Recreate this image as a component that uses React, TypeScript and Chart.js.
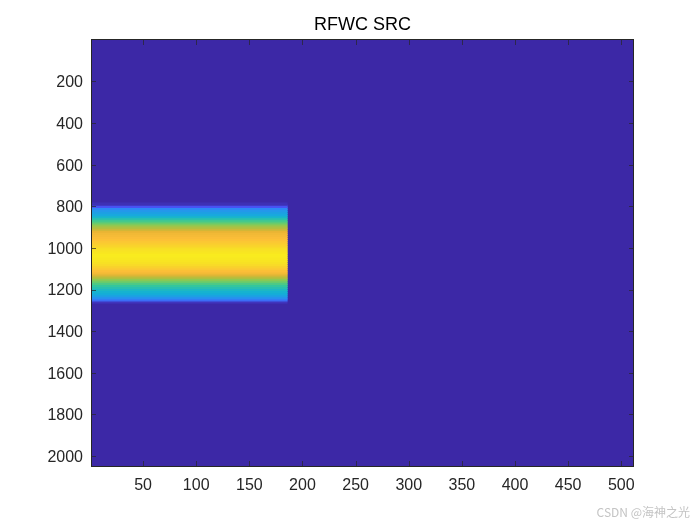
import React, { useEffect, useRef } from "react";
import { Chart, registerables } from "chart.js";

Chart.register(...registerables);

const titleText = "RFWC SRC";
const watermark = "CSDN @海神之光";
const xTicks = [50, 100, 150, 200, 250, 300, 350, 400, 450, 500];
const yTicks = [200, 400, 600, 800, 1000, 1200, 1400, 1600, 1800, 2000];
const xRange = [1, 512];
const yRange = [1, 2048];
const bandX = [1, 186];
const rowY = [
  790, 800, 810, 820, 830, 840, 850, 860, 870, 880, 890, 900, 910, 920, 930, 940,
  950, 960, 970, 980, 990, 1000, 1010, 1020, 1030, 1040, 1050, 1060, 1070, 1080,
  1090, 1100, 1110, 1120, 1130, 1140, 1150, 1160, 1170, 1180, 1190, 1200, 1210,
  1220, 1230, 1240, 1250, 1260,
];
const rowValue = [
  0.02, 0.1, 0.2, 0.24, 0.26, 0.28, 0.32, 0.37, 0.42, 0.47, 0.53, 0.58, 0.64, 0.71,
  0.75, 0.77, 0.79, 0.81, 0.83, 0.85, 0.87, 0.9, 0.93, 0.96, 0.99, 0.99, 0.97, 0.95,
  0.92, 0.89, 0.86, 0.83, 0.8, 0.76, 0.68, 0.6, 0.53, 0.48, 0.43, 0.39, 0.36, 0.33,
  0.31, 0.29, 0.26, 0.22, 0.15, 0.03,
];

const parula = [
  [60, 40, 166],
  [72, 82, 244],
  [46, 135, 247],
  [18, 177, 214],
  [55, 200, 151],
  [128, 204, 90],
  [185, 189, 60],
  [230, 180, 52],
  [252, 190, 56],
  [247, 222, 38],
  [249, 236, 30],
];

function colorOf(v: number): string {
  const p = Math.max(0, Math.min(1, v)) * (parula.length - 1);
  const i = Math.min(parula.length - 2, Math.floor(p));
  const f = p - i;
  const c = parula[i].map((a, k) => Math.round(a + (parula[i + 1][k] - a) * f));
  return `rgb(${c[0]},${c[1]},${c[2]})`;
}

const FONT = '"Liberation Sans", Arial, sans-serif';
const INK = "#262626";

const framePlugin = {
  id: "frame",
  beforeDatasetsDraw(chart: any) {
    const { ctx, chartArea: a } = chart;
    ctx.save();
    ctx.fillStyle = colorOf(0);
    ctx.fillRect(a.left, a.top, a.right - a.left, a.bottom - a.top);
    ctx.restore();
  },
  afterDatasetsDraw(chart: any) {
    const { ctx, chartArea: a, scales } = chart;
    const len = 5;
    ctx.save();
    ctx.strokeStyle = "rgba(38,38,38,0.7)";
    ctx.lineWidth = 1;
    ctx.beginPath();
    xTicks.forEach((t) => {
      const x = Math.round(scales.x.getPixelForValue(t)) + 0.5;
      ctx.moveTo(x, a.bottom);
      ctx.lineTo(x, a.bottom - len);
      ctx.moveTo(x, a.top);
      ctx.lineTo(x, a.top + len);
    });
    yTicks.forEach((t) => {
      const y = Math.round(scales.y.getPixelForValue(t)) + 0.5;
      ctx.moveTo(a.left, y);
      ctx.lineTo(a.left + len, y);
      ctx.moveTo(a.right, y);
      ctx.lineTo(a.right - len, y);
    });
    ctx.stroke();
    ctx.strokeStyle = INK;
    ctx.strokeRect(a.left + 0.5, a.top - 0.5, a.right - a.left - 1, a.bottom - a.top + 1);
    ctx.restore();
  },
  afterDraw(chart: any) {
    const { ctx } = chart;
    ctx.save();
    ctx.font = '12px "Noto Sans CJK SC", "Liberation Sans", sans-serif';
    ctx.fillStyle = "#c4c4c4";
    ctx.textAlign = "right";
    ctx.textBaseline = "middle";
    ctx.fillText(watermark, 690, 512);
    ctx.restore();
  },
};

export default function App() {
  const ref = useRef<HTMLCanvasElement>(null);

  useEffect(() => {
    document.body.style.margin = "0";
    document.body.style.background = "#fff";
    const chart = new Chart(ref.current as HTMLCanvasElement, {
      type: "line",
      data: {
        datasets: rowY.map((y, i) => ({
          data: bandX.map((x) => ({ x, y })),
          borderColor: colorOf(rowValue[i]),
          borderWidth: 3.2,
          borderCapStyle: "butt",
          pointRadius: 0,
          tension: 0,
        })),
      },
      options: {
        responsive: false,
        animation: false,
        devicePixelRatio: 1,
        layout: { padding: { left: 0, right: 66, top: 0, bottom: 0 } },
        plugins: {
          legend: { display: false },
          tooltip: { enabled: false },
          title: {
            display: true,
            fullSize: false,
            text: titleText,
            color: "#000",
            font: { family: FONT, size: 18, weight: "normal", lineHeight: 1.2 },
            padding: { top: 14, bottom: 4.4 },
          },
        },
        scales: {
          x: {
            type: "linear",
            min: xRange[0],
            max: xRange[1],
            grid: { display: false },
            border: { display: false },
            afterBuildTicks: (s: any) => {
              s.ticks = xTicks.map((value) => ({ value }));
            },
            afterFit: (s: any) => {
              s.height = 59;
            },
            ticks: {
              autoSkip: false,
              maxRotation: 0,
              color: INK,
              padding: 2,
              font: { family: FONT, size: 16 },
              callback: (v: any) => String(v),
            },
          },
          y: {
            type: "linear",
            reverse: true,
            min: yRange[0],
            max: yRange[1],
            grid: { display: false },
            border: { display: false },
            afterBuildTicks: (s: any) => {
              s.ticks = yTicks.map((value) => ({ value }));
            },
            afterFit: (s: any) => {
              s.width = 91;
            },
            ticks: {
              autoSkip: false,
              color: INK,
              padding: 0,
              labelOffset: 1.5,
              font: { family: FONT, size: 16 },
              callback: (v: any) => String(v),
            },
          },
        },
      },
      plugins: [framePlugin],
    } as any);
    return () => chart.destroy();
  }, []);

  return <canvas ref={ref} width={700} height={525} style={{ display: "block", width: 700, height: 525 }} />;
}
